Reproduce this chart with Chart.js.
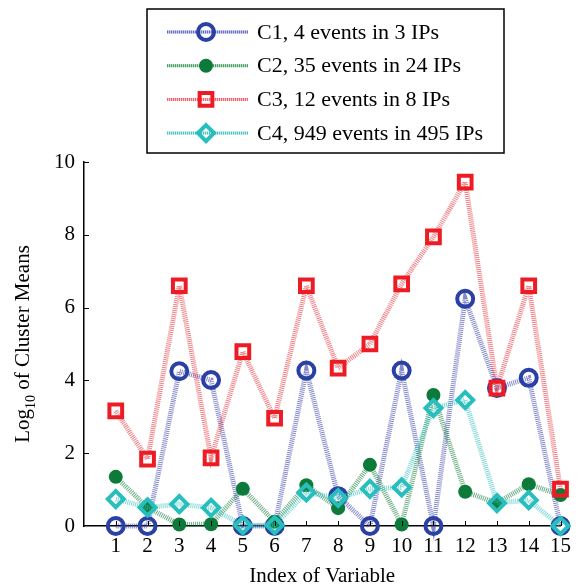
<!DOCTYPE html>
<html><head><meta charset="utf-8">
<script src="https://cdn.jsdelivr.net/npm/chart.js@4/dist/chart.umd.min.js"></script>
<style>html,body{margin:0;padding:0;background:#fff}#wrap{width:579px;height:588px;position:relative}</style>
</head><body><div id="wrap"><canvas id="c" width="579" height="588"></canvas></div>
<script>
const variableIndex = [1,2,3,4,5,6,7,8,9,10,11,12,13,14,15];
const c1Values = [0,0,4.25,4.01,0,0,4.27,0.82,0,4.27,0,6.24,3.79,4.07,0];
const c2Values = [1.35,0.51,0.04,0.05,1.02,0.12,1.12,0.49,1.68,0.04,3.6,0.94,0.63,1.15,0.85];
const c3Values = [3.16,1.84,6.6,1.87,4.79,2.96,6.6,4.34,5.0,6.65,7.94,9.45,3.79,6.6,1.01];
const c4Values = [0.74,0.51,0.6,0.5,0.02,0.02,0.92,0.77,1.02,1.06,3.24,3.46,0.63,0.71,0.0];
const seriesLabels = ['C1, 4 events in 3 IPs','C2, 35 events in 24 IPs','C3, 12 events in 8 IPs','C4, 949 events in 495 IPs'];
const yTickValues = [0,2,4,6,8,10];
const xAxisTitle = 'Index of Variable';
const yAxisTitleMain = 'Log';
const yAxisTitleSub = '10';
const yAxisTitleRest = ' of Cluster Means';

const FONT = '"Liberation Serif", "Times New Roman", serif';
const styles = [
  {line:'rgba(55,65,170,0.62)', base:'rgba(120,130,210,0.45)', leg:'rgb(100,110,200)', mark:'rgb(43,64,165)', ps:'circle', r:8, bw:4, fill:'rgba(0,0,0,0)', order:4},
  {line:'rgba(20,125,60,0.62)', base:'rgba(100,180,120,0.45)', leg:'rgb(70,160,100)', mark:'rgb(14,122,58)', ps:'circle', r:7, bw:0, fill:'rgb(14,122,58)', order:3},
  {line:'rgba(230,50,60,0.62)', base:'rgba(240,130,140,0.45)', leg:'rgb(235,100,110)', mark:'rgb(237,28,36)', ps:'rect', r:9, bw:4, fill:'rgba(0,0,0,0)', order:2},
  {line:'rgba(50,190,190,0.62)', base:'rgba(120,210,210,0.45)', leg:'rgb(80,195,195)', mark:'rgb(40,190,190)', ps:'rectRot', r:8, bw:4, fill:'rgba(0,0,0,0)', order:1}
];
const allValues = [c1Values,c2Values,c3Values,c4Values];

const datasets = allValues.map((vals,i)=>({
  label: seriesLabels[i],
  data: variableIndex.map((x,j)=>({x:x,y:vals[j]})),
  borderColor: styles[i].line,
  borderWidth: 5,
  borderDash: [1,1],
  pointStyle: styles[i].ps,
  pointRadius: styles[i].r,
  pointBorderWidth: styles[i].bw,
  pointBorderColor: styles[i].mark,
  pointBackgroundColor: styles[i].fill,
  pointHoverRadius: styles[i].r,
  tension: 0,
  fill: false,
  clip: false,
  order: styles[i].order
}));

function drawMarker(ctx, st, x, y){
  ctx.save();
  ctx.setLineDash([]);
  ctx.lineWidth = st.bw;
  ctx.strokeStyle = st.mark;
  ctx.fillStyle = st.fill;
  ctx.beginPath();
  if (st.ps === 'circle') {
    ctx.arc(x,y,st.r,0,Math.PI*2);
  } else if (st.ps === 'rect') {
    const s = Math.SQRT1_2*st.r;
    ctx.rect(x-s,y-s,2*s,2*s);
  } else {
    ctx.moveTo(x,y-st.r); ctx.lineTo(x+st.r,y); ctx.lineTo(x,y+st.r); ctx.lineTo(x-st.r,y); ctx.closePath();
  }
  ctx.fill();
  if (st.bw>0) ctx.stroke();
  ctx.restore();
}

const decor = {
  id:'decor',
  afterDraw(chart){
    const ctx = chart.ctx, xs = chart.scales.x, ys = chart.scales.y, ca = chart.chartArea;
    ctx.save();
    ctx.strokeStyle = '#000'; ctx.lineWidth = 1;
    variableIndex.forEach(v=>{
      const px = Math.round(xs.getPixelForValue(v))+0.5;
      ctx.beginPath(); ctx.moveTo(px, ca.bottom); ctx.lineTo(px, ca.bottom-5); ctx.stroke();
    });
    yTickValues.forEach(v=>{
      if (v===0) return;
      const py = Math.round(ys.getPixelForValue(v))+0.5;
      ctx.beginPath(); ctx.moveTo(ca.left, py); ctx.lineTo(ca.left+5, py); ctx.stroke();
    });
    ctx.fillStyle = '#000';
    ctx.font = '21px ' + FONT;
    ctx.textAlign = 'center'; ctx.textBaseline = 'alphabetic';
    ctx.fillText(xAxisTitle, (ca.left+ca.right)/2, 582);
    ctx.save();
    ctx.translate(29, (ca.top+ca.bottom)/2);
    ctx.rotate(-Math.PI/2);
    ctx.textAlign = 'left';
    ctx.font = '21px ' + FONT;
    const w1 = ctx.measureText(yAxisTitleMain).width;
    const w3 = ctx.measureText(yAxisTitleRest).width;
    ctx.font = '14px ' + FONT;
    const w2 = ctx.measureText(yAxisTitleSub).width;
    let sx = -(w1+w2+w3)/2;
    ctx.font = '21px ' + FONT;
    ctx.fillText(yAxisTitleMain, sx, 0);
    ctx.font = '14px ' + FONT;
    ctx.fillText(yAxisTitleSub, sx+w1, 6);
    ctx.font = '21px ' + FONT;
    ctx.fillText(yAxisTitleRest, sx+w1+w2, 0);
    ctx.restore();
    ctx.fillStyle = '#fff';
    ctx.fillRect(147,9,357,144);
    ctx.strokeStyle = '#000'; ctx.lineWidth = 1.5;
    ctx.strokeRect(147,9,357,144);
    chart.data.datasets.forEach((ds,i)=>{
      const y = 32 + i*33.7;
      ctx.save();
      ctx.strokeStyle = styles[i].base; ctx.lineWidth = 3;
      ctx.beginPath(); ctx.moveTo(167,y); ctx.lineTo(248,y); ctx.stroke();
      ctx.strokeStyle = styles[i].leg; ctx.setLineDash([1,1]);
      ctx.beginPath(); ctx.moveTo(167,y); ctx.lineTo(248,y); ctx.stroke();
      ctx.restore();
      drawMarker(ctx, styles[i], 206, y);
      ctx.fillStyle = '#000';
      ctx.font = '22px ' + FONT;
      ctx.textAlign = 'left'; ctx.textBaseline = 'middle';
      ctx.fillText(ds.label, 257, y+1);
    });
    ctx.restore();
  }
};

new Chart(document.getElementById('c'), {
  type:'line',
  data:{datasets:datasets},
  options:{
    responsive:false,
    animation:false,
    devicePixelRatio:1,
    layout:{padding:{top:162,right:11,left:0,bottom:0}},
    plugins:{legend:{display:false},tooltip:{enabled:false}},
    scales:{
      x:{
        type:'linear', min:0, max:15, offset:false,
        grid:{display:false, drawTicks:false},
        border:{display:true,color:'#000',width:1.5},
        afterFit(s){ s.height = 62; },
        afterBuildTicks(s){ s.ticks = variableIndex.map(v=>({value:v})); },
        ticks:{autoSkip:false,maxRotation:0,padding:8,color:'#000',font:{family:FONT,size:21},callback:(v)=>String(v)}
      },
      y:{
        type:'linear', min:0, max:10,
        grid:{display:false, drawTicks:false},
        border:{display:true,color:'#000',width:1.5},
        afterFit(s){ s.width = 84; },
        afterBuildTicks(s){ s.ticks = yTickValues.map(v=>({value:v})); },
        ticks:{padding:9,color:'#000',font:{family:FONT,size:21}}
      }
    }
  },
  plugins:[decor]
});
</script>
</body></html>
